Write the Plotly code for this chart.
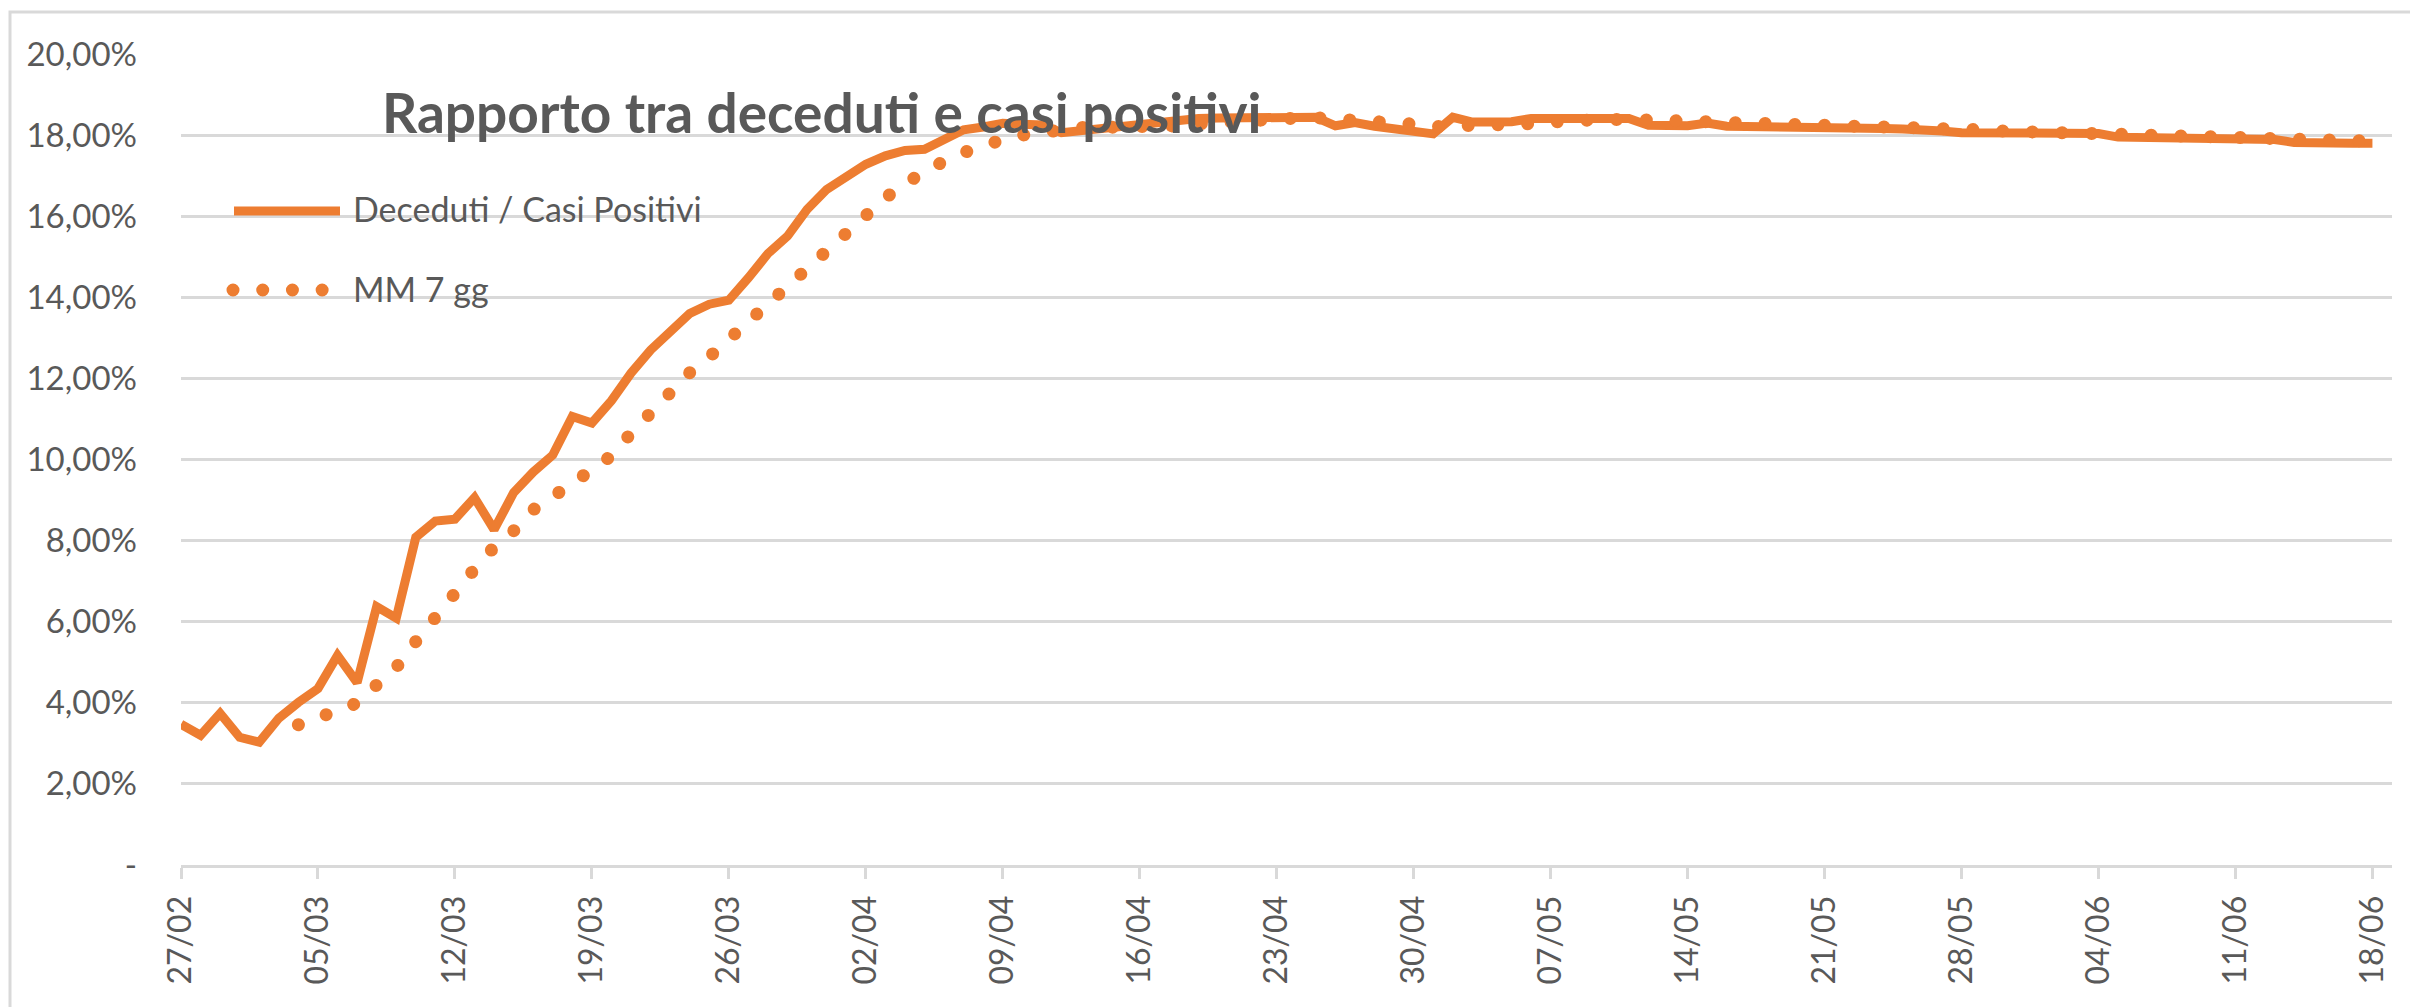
import pandas as pd
import plotly.graph_objects as go

# ---- data (ratio deceduti / casi positivi, %) ----
start_date = "2020-02-27"
end_date = "2020-06-18"
dates = pd.date_range(start_date, end_date, freq="D")

ratio = [
    3.47, 3.20, 3.74, 3.15, 3.03, 3.62, 4.01, 4.35, 5.17, 4.50,
    6.37, 6.09, 8.08, 8.48, 8.53, 9.06, 8.27, 9.18, 9.69, 10.11,
    11.06, 10.90, 11.45, 12.13, 12.70, 13.13, 13.60, 13.83, 13.93, 14.48,
    15.08, 15.51, 16.17, 16.66, 16.96, 17.28, 17.49, 17.62, 17.65, 17.86,
    18.13, 18.20, 18.29, 18.27, 18.25, 18.06, 18.11, 18.16, 18.22, 18.30,
    18.36, 18.39, 18.41, 18.42, 18.43, 18.44, 18.44, 18.44, 18.44, 18.23,
    18.31, 18.22, 18.14, 18.08, 18.03, 18.44, 18.32, 18.32, 18.33, 18.41,
    18.41, 18.41, 18.41, 18.41, 18.41, 18.24, 18.24, 18.23, 18.30, 18.22,
    18.21, 18.21, 18.21, 18.21, 18.21, 18.21, 18.21, 18.16, 18.15, 18.15,
    18.10, 18.06, 18.05, 18.05, 18.05, 18.05, 18.05, 18.05, 18.04, 17.95,
    17.94, 17.94, 17.94, 17.94, 17.94, 17.94, 17.89, 17.89, 17.82, 17.80,
    17.80, 17.80, 17.80,
]

mm7 = [
    3.46, 3.59, 3.87, 3.98, 4.44, 4.87, 5.51, 6.15, 6.75, 7.30,
    7.84, 8.24, 8.76, 9.05, 9.41, 9.75, 10.09, 10.65, 11.15, 11.64,
    12.14, 12.53, 12.97, 13.40, 13.82, 14.22, 14.66, 15.09, 15.54, 16.02,
    16.45, 16.81, 17.12, 17.36, 17.57, 17.75, 17.89, 18.00, 18.09, 18.15,
    18.19, 18.19, 18.19, 18.20, 18.21, 18.23, 18.28, 18.32, 18.36, 18.39,
    18.41, 18.42, 18.43, 18.41, 18.39, 18.36, 18.32, 18.27, 18.21, 18.21,
    18.22, 18.22, 18.24, 18.28, 18.32, 18.38, 18.37, 18.39, 18.40, 18.39,
    18.36, 18.34, 18.32, 18.29, 18.26, 18.24, 18.23, 18.23, 18.22, 18.21,
    18.21, 18.20, 18.19, 18.19, 18.17, 18.15, 18.13, 18.10, 18.09, 18.07,
    18.06, 18.05, 18.05, 18.03, 18.02, 18.00, 17.99, 17.97, 17.96, 17.96,
    17.95, 17.94, 17.92, 17.90, 17.88, 17.86, 17.85,
]

x_tick_labels = ["27/02", "05/03", "12/03", "19/03", "26/03", "02/04", "09/04",
                 "16/04", "23/04", "30/04", "07/05", "14/05", "21/05", "28/05",
                 "04/06", "11/06", "18/06"]
y_tick_values = [0, 2, 4, 6, 8, 10, 12, 14, 16, 18, 20]
y_tick_labels = ["-", "2,00%", "4,00%", "6,00%", "8,00%", "10,00%", "12,00%",
                 "14,00%", "16,00%", "18,00%", "20,00%"]

series_names = ["Deceduti / Casi Positivi", "MM 7 gg"]
title_text = "Rapporto tra deceduti e casi positivi"

ORANGE = "#ED7D31"
GRID = "#D9D9D9"
TEXT = "#595959"
FONT = "Lato"

mm_dates = dates[len(dates) - len(mm7):]

fig = go.Figure()
fig.add_trace(go.Scatter(
    x=dates, y=ratio, mode="lines", name=series_names[0],
    line=dict(color=ORANGE, width=9), showlegend=False,
))
fig.add_trace(go.Scatter(
    x=mm_dates, y=mm7, mode="lines", name=series_names[1],
    line=dict(color=ORANGE, width=13, dash="12px,17.7px"), showlegend=False,
))

W, H = 2410, 1007
L, R, T, B = 181, 18, 54, 142
pw, ph = W - L - R, H - T - B


def px(xp):
    return (xp - L) / pw


def py(yp):
    return (H - B - yp) / ph


shapes = [
    # chart frame (left / top visible)
    dict(type="rect", xref="paper", yref="paper",
         x0=px(10), x1=px(2440), y0=py(1040), y1=py(12),
         line=dict(color=GRID, width=3), layer="below"),
    # legend samples
    dict(type="line", xref="paper", yref="paper",
         x0=px(234), x1=px(340), y0=py(211), y1=py(211),
         line=dict(color=ORANGE, width=9)),
    dict(type="line", xref="paper", yref="paper",
         x0=px(233), x1=px(324), y0=py(290), y1=py(290),
         line=dict(color=ORANGE, width=13, dash="12px,17.7px")),
]

annotations = [
    dict(text="<b>" + title_text + "</b>", xref="paper", yref="paper",
         x=px(822), y=py(112), xanchor="center", yanchor="middle",
         showarrow=False, font=dict(family=FONT, size=55, color=TEXT)),
    dict(text=series_names[0], xref="paper", yref="paper",
         x=px(351), y=py(208), xanchor="left", yanchor="middle",
         showarrow=False, font=dict(family=FONT, size=34, color=TEXT)),
    dict(text=series_names[1], xref="paper", yref="paper",
         x=px(351), y=py(288), xanchor="left", yanchor="middle",
         showarrow=False, font=dict(family=FONT, size=34, color=TEXT)),
]

fig.update_layout(
    width=W, height=H,
    margin=dict(l=L, r=R, t=T, b=B),
    paper_bgcolor="white", plot_bgcolor="white",
    font=dict(family=FONT, color=TEXT),
    shapes=shapes, annotations=annotations,
    showlegend=False,
)
fig.update_xaxes(
    range=[start_date, "2020-06-19"],
    tickmode="array", tickvals=list(dates[::7]), ticktext=x_tick_labels,
    tickangle=-90, tickfont=dict(family=FONT, size=32, color=TEXT),
    ticks="outside", ticklen=11, tickwidth=3, tickcolor=GRID,
    showline=True, linecolor=GRID, linewidth=3,
    showgrid=False, zeroline=False, ticklabelstandoff=4,
)
fig.update_yaxes(
    range=[0, 20],
    tickmode="array", tickvals=y_tick_values, ticktext=y_tick_labels,
    tickfont=dict(family=FONT, size=33, color=TEXT),
    showgrid=True, gridcolor=GRID, gridwidth=3,
    zeroline=False, showline=False, ticks="", ticklabelstandoff=43,
)

post = """
document.body.style.margin = '0';
var gd = document.getElementById('{plot_id}');
function roundDots() {
  gd.querySelectorAll('path').forEach(function(p) {
    var da = p.style.strokeDasharray;
    if (da && da.indexOf('17.7') >= 0) {
      p.style.strokeLinecap = 'round';
      p.style.strokeDasharray = '0.01px, 29.7px';
    }
  });
}
roundDots();
"""

fig.write_html("out.html", post_script=post, config={"displayModeBar": False})
